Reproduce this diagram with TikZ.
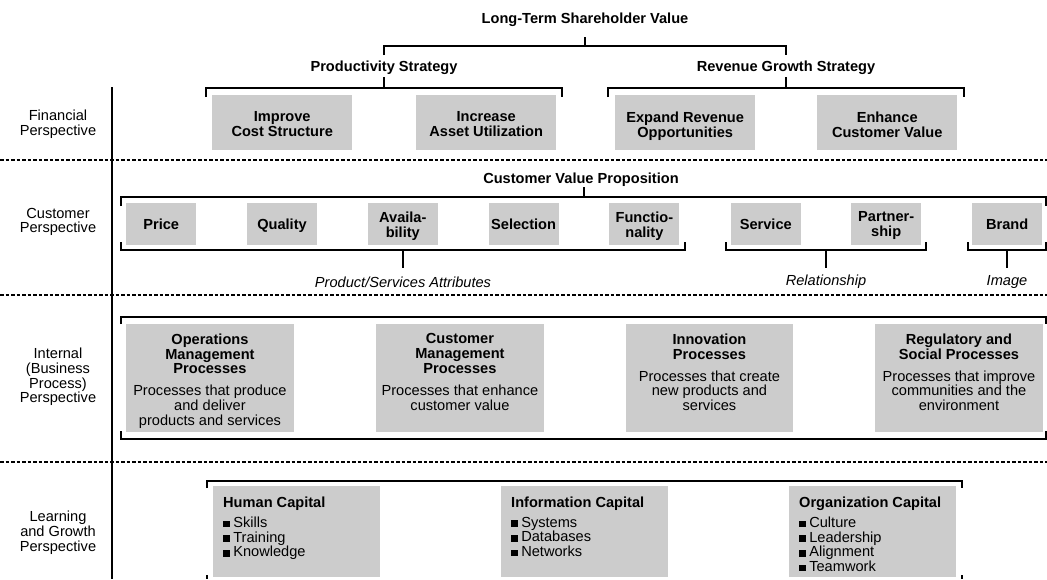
\documentclass[tikz,border=0pt]{standalone}
\usepackage{fontspec}
\setmainfont{Liberation Sans}
\definecolor{boxgray}{RGB}{204,204,204}
\newcommand{\sqbullet}{\rule[0.3pt]{6.5pt}{6.5pt}\hspace{3.6pt}}

\begin{document}
\begin{tikzpicture}[x=1pt,y=-1pt,
  txt/.style={font=\fontsize{14.6}{14.8}\selectfont, inner sep=0pt, align=center},
  head/.style={txt, font=\fontsize{14.6}{14.8}\selectfont\bfseries},
  note/.style={txt, font=\fontsize{14.6}{14.8}\selectfont\itshape},
  gbox/.style={fill=boxgray, draw=none, inner sep=0pt, anchor=north west},
  finbox/.style={gbox, minimum width=140pt, minimum height=55pt},
  cusbox/.style={gbox, minimum width=70pt, minimum height=42pt},
  intbox/.style={gbox, minimum width=167.5pt, minimum height=108pt},
  lrnbox/.style={gbox, minimum width=167pt, minimum height=91pt},
  intext/.style={head, anchor=north},
  brk/.style={line width=2pt, line join=miter},
  sepline/.style={line width=1.6pt, dash pattern=on 3.5pt off 2pt},
  rule/.style={line width=2pt}
]
\useasboundingbox (0,0) rectangle (1047,579);

% perspective separators
\draw[sepline] (0,160) -- (1047,160);
\draw[sepline] (0,295) -- (1047,295);
\draw[sepline] (0,462) -- (1047,462);
\draw[rule] (112,87) -- (112,579);

% perspective names
\node[txt] (pfin) at (58,124) {Financial\\Perspective};
\node[txt] (pcus) at (58,222) {Customer\\Perspective};
\node[txt] (pint) at (58,377) {Internal\\(Business\\Process)\\Perspective};
\node[txt] (plrn) at (58,533) {Learning\\and Growth\\Perspective};

% ---------- financial perspective ----------
\node[head] (ltsv) at (585,20) {Long-Term Shareholder Value};
\node[head] (prod) at (384,68) {Productivity Strategy};
\node[head] (rev)  at (786,68) {Revenue Growth Strategy};

\coordinate (ltsvstem) at (585,37);
\draw[brk] (384,55) -- (384,46) -- (786,46) -- (786,55);
\draw[brk] (ltsvstem) -- (585,46);

\coordinate (prodstem) at (384,77);
\coordinate (revstem) at (786,77);
\draw[brk] (206,97) -- (206,88) -- (562,88) -- (562,97);
\draw[brk] (prodstem) -- (384,88);
\draw[brk] (608,97) -- (608,88) -- (964,88) -- (964,97);
\draw[brk] (revstem) -- (786,88);

\node[finbox] (imp) at (212,95) {};
\node[finbox] (inc) at (416,95) {};
\node[finbox] (exp) at (615,95) {};
\node[finbox] (enh) at (817,95) {};
\node[intext] (impt) at (imp.north |- 0,111.6) {Improve\\Cost Structure};
\node[intext] (inct) at (inc.north |- 0,111.6) {Increase\\Asset Utilization};
\node[intext] (expt) at (exp.north |- 0,111.6) {Expand Revenue\\Opportunities};
\node[intext] (enht) at (enh.north |- 0,111.6) {Enhance\\Customer Value};

% ---------- customer perspective ----------
\node[head] (cvp) at (581,180) {Customer Value Proposition};
\coordinate (cvpstem) at (584,187);
\draw[brk] (121,206) -- (121,197) -- (1046,197) -- (1046,206);
\draw[brk] (cvpstem) -- (584,197);

\node[cusbox] (price) at (126.0,203) {};
\node[cusbox] (qual)  at (246.8,203) {};
\node[cusbox] (avail) at (367.6,203) {};
\node[cusbox] (sel)   at (488.4,203) {};
\node[cusbox] (func)  at (609.2,203) {};
\node[cusbox] (serv)  at (730.6,203) {};
\node[cusbox] (part)  at (851.0,203) {};
\node[cusbox] (brand) at (972.0,203) {};

% one-line names sit on the box middle, two-line names start higher
\node[intext] (pricet) at (price.north |- 0,218.8) {Price};
\node[intext] (qualt)  at (qual.north  |- 0,218.8) {Quality};
\node[intext] (availt) at (avail.north |- 0,211.6) {Availa-\\bility};
\node[intext] (selt)   at (sel.north   |- 0,218.8) {Selection};
\node[intext] (funct)  at (func.north  |- 0,211.6) {Functio-\\nality};
\node[intext] (servt)  at (serv.north  |- 0,218.8) {Service};
\node[intext] (partt)  at (part.north  |- 0,211.6) {Partner-\\ship};
\node[intext] (brandt) at (brand.north |- 0,218.8) {Brand};

\draw[brk] (121,242) -- (121,250) -- (685,250) -- (685,242);
\draw[brk] (726,242) -- (726,250) -- (926,250) -- (926,242);
\draw[brk] (968,242) -- (968,250) -- (1046,250) -- (1046,242);

\node[note] (attr) at (403,282) {Product/Services Attributes};
\node[note] (rel)  at (826,282) {Relationship};
\node[note] (img)  at (1007,282) {Image};
\draw[brk] (403,250) -- (attr.north |- 0,268);
\draw[brk] (826,250) -- (rel.north |- 0,268);
\draw[brk] (1007,250) -- (img.north |- 0,268);

% ---------- internal perspective ----------
\draw[brk] (121,324) -- (121,317) -- (1046,317) -- (1046,324);
\draw[brk] (121,431) -- (121,439) -- (1046,439) -- (1046,431);

\node[intbox] (ops) at (126,324) {};
\node[intbox] (cmp) at (376,324) {};
\node[intbox] (inn) at (625.5,324) {};
\node[intbox] (reg) at (875,324) {};

\node[txt, anchor=north] (opst) at (ops.north |- 0,333.5)
  {\textbf{Operations}\\\textbf{Management}\\\textbf{Processes}\\[7.2pt]Processes that produce\\and deliver\\products and services};
\node[txt, anchor=north] (cmpt) at (cmp.north |- 0,333.5)
  {\textbf{Customer}\\\textbf{Management}\\\textbf{Processes}\\[7.2pt]Processes that enhance\\customer value};
\node[txt, anchor=north] (innt) at (inn.north |- 0,333.5)
  {\textbf{Innovation}\\\textbf{Processes}\\[7.2pt]Processes that create\\new products and\\services};
\node[txt, anchor=north] (regt) at (reg.north |- 0,333.5)
  {\textbf{Regulatory and}\\\textbf{Social Processes}\\[7.2pt]Processes that improve\\communities and the\\environment};

% ---------- learning and growth perspective ----------
\draw[brk] (207,488) -- (207,481) -- (962,481) -- (962,488);
\draw[brk] (207,575) -- (207,579);
\draw[brk] (962,575) -- (962,579);

\node[lrnbox] (hum) at (213,486) {};
\node[lrnbox] (inf) at (501,486) {};
\node[lrnbox] (org) at (789,486) {};

\node[head, anchor=base west] (humt) at (223,507.3) {Human Capital};
\node[head, anchor=base west] (inft) at (511,507.3) {Information Capital};
\node[head, anchor=base west] (orgt) at (799,507.3) {Organization Capital};

\node[txt, align=left, anchor=north west] (huml) at (223,516.6)
  {\sqbullet Skills\\\sqbullet Training\\\sqbullet Knowledge};
\node[txt, align=left, anchor=north west] (infl) at (511,516.6)
  {\sqbullet Systems\\\sqbullet Databases\\\sqbullet Networks};
\node[txt, align=left, anchor=north west] (orgl) at (799,516.6)
  {\sqbullet Culture\\\sqbullet Leadership\\\sqbullet Alignment\\\sqbullet Teamwork};
\end{tikzpicture}
\end{document}
